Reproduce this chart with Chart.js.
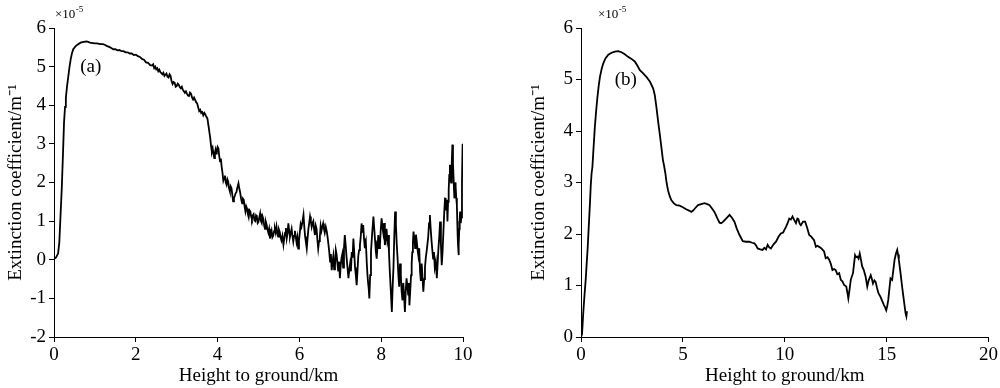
<!DOCTYPE html>
<html><head><meta charset="utf-8">
<script src="https://cdn.jsdelivr.net/npm/chart.js@4.4.1/dist/chart.umd.min.js"></script>
<style>
html,body{margin:0;padding:0;background:#fff;width:1000px;height:388px;overflow:hidden}
.box{position:absolute;top:0;width:480px;height:388px}
</style></head><body>
<div class="box" style="left:0"><canvas id="ca" width="480" height="388"></canvas></div>
<div class="box" style="left:520px"><canvas id="cb" width="480" height="388"></canvas></div>
<script>
// ---- Panel (a) ----
const heightA = [0.00,0.05,0.10,0.13,0.16,0.19,0.22,0.245,0.27,0.29,0.32,0.35,0.38,0.41,0.44,0.47,0.53,0.59,0.65,0.72,0.80,0.88,0.95,
1.00,1.05,1.10,1.15,1.20,1.25,1.30,1.35,1.40,1.45,1.50,1.55,1.60,1.65,1.70,1.75,1.80,1.85,1.90,1.95,2.00,2.05,2.10,2.15,2.20,2.25,2.30,2.35,
2.40,2.425,2.45,2.475,2.50,2.525,2.55,2.575,2.60,2.625,2.65,2.675,2.70,2.725,2.75,2.775,2.80,2.825,2.85,2.875,2.90,2.925,2.95,2.975,
3.00,3.025,3.05,3.075,3.10,3.125,3.15,3.175,3.20,3.225,3.25,3.275,3.30,3.325,3.35,3.375,3.40,3.425,3.45,3.475,3.50,3.525,3.55,3.575,3.60,3.625,3.65,3.675,3.70,3.725,
3.75,3.78,3.80,3.82,3.84,3.86,3.88,3.90,3.92,3.935,3.95,3.965,3.98,4.00,4.02,4.04,4.06,4.08,4.10,4.12,4.14,4.16,4.18,4.20,4.22,4.24,4.26,4.28,4.30,4.32,4.34,4.36,4.38,4.40,
4.42,4.44,4.46,4.485,4.51,4.53,4.55,4.575,4.60,4.62,4.64,4.66,4.68,4.70,4.72,4.74,4.76,4.78,4.80,4.82,4.84,4.86,4.88,4.90,4.92,4.94,4.96,4.98,
5.00,5.02,5.04,5.06,5.08,5.10,5.12,5.14,5.16,5.18,5.20,5.22,5.24,5.26,5.28,5.30,5.32,5.34,5.36,5.38,5.40,5.42,5.44,5.46,5.48,5.50,5.52,5.54,5.56,5.585,5.61,5.63,5.65,5.67,5.69,5.71,5.73,5.75,5.77,5.79,5.81,5.83,5.85,5.87,5.89,5.91,5.93,5.95,5.97,5.99,
6.01,6.03,6.05,6.075,6.10,6.12,6.14,6.16,6.18,6.20,6.22,6.24,6.26,6.28,6.30,6.32,6.34,6.36,6.38,6.40,6.42,6.44,6.46,6.48,6.50,6.52,6.54,6.56,6.58,6.60,6.62,6.645,6.67,6.69,6.71,6.73,6.75,6.77,6.79,6.81,6.83,6.85,6.87,6.89,6.91,6.93,6.95,6.97,6.99,
7.01,7.03,7.05,7.07,7.09,7.11,7.13,7.15,7.175,7.20,7.22,7.24,7.26,7.28,7.30,7.32,7.34,7.36,7.38,7.40,7.42,7.44,7.46,7.48,7.50,7.52,7.54,7.56,7.58,7.60,7.625,7.65,7.665,7.68,7.695,7.71,7.73,7.75,7.78,7.81,7.83,7.85,7.87,7.89,7.91,7.93,7.95,7.97,7.99,
8.01,8.03,8.05,8.07,8.09,8.11,8.13,8.15,8.17,8.19,8.21,8.235,8.26,8.28,8.30,8.32,8.34,8.36,8.38,8.40,8.42,8.44,8.46,8.48,8.50,8.52,8.54,8.56,8.58,8.60,8.62,8.64,8.66,8.675,8.69,8.71,8.73,8.745,8.76,8.775,8.79,8.81,8.83,8.85,8.87,8.89,8.91,8.93,8.95,8.97,8.99,
9.01,9.03,9.05,9.07,9.09,9.11,9.13,9.15,9.17,9.19,9.21,9.23,9.25,9.27,9.29,9.31,9.335,9.36,9.38,9.40,9.42,9.44,9.46,9.48,9.50,9.52,9.54,9.56,9.575,9.59,9.605,9.62,9.635,9.65,9.665,9.68,9.695,9.71,9.725,9.74,9.755,9.77,9.78,9.79,9.805,9.82,9.835,9.85,9.86,9.87,9.88,9.89,9.90,9.91,9.92,9.93,9.945,9.96,9.975,9.99,10.00];
const extA = [0.02,0.06,0.16,0.45,1.15,1.85,2.75,3.55,3.96,4.19,4.50,4.75,5.00,5.20,5.35,5.45,5.53,5.58,5.62,5.64,5.65,5.62,5.61,
5.60,5.60,5.59,5.58,5.58,5.56,5.53,5.51,5.48,5.45,5.45,5.42,5.43,5.40,5.40,5.37,5.37,5.34,5.34,5.30,5.31,5.27,5.25,5.20,5.18,5.11,5.10,5.04,
5.03,5.06,4.96,5.00,4.93,4.96,4.88,4.92,4.86,4.83,4.80,4.84,4.76,4.79,4.82,4.74,4.72,4.80,4.76,4.62,4.55,4.60,4.58,4.48,
4.50,4.56,4.53,4.47,4.44,4.48,4.40,4.36,4.32,4.36,4.30,4.25,4.24,4.33,4.30,4.20,4.15,4.20,4.14,4.08,4.05,3.95,3.85,3.88,3.80,3.82,3.74,3.80,3.76,3.70,
3.66,3.45,3.30,3.15,2.95,2.80,2.88,2.72,2.63,2.78,2.85,2.75,2.80,2.92,2.88,2.68,2.55,2.62,2.40,2.25,2.05,2.12,2.18,2.00,1.94,2.08,2.02,1.85,1.77,1.90,1.85,1.68,1.51,1.60,
1.65,1.72,1.75,1.88,1.98,1.85,1.75,1.58,1.46,1.58,1.55,1.38,1.25,1.38,1.32,1.18,1.10,1.28,1.25,1.12,1.05,1.15,1.18,1.02,1.00,1.15,1.12,0.95,
0.98,1.10,1.20,1.00,0.95,1.12,1.05,0.88,0.80,0.98,0.90,0.78,0.70,0.80,0.55,0.66,0.75,0.58,0.62,0.74,0.80,0.70,0.86,0.70,0.60,0.78,0.72,0.58,0.50,0.62,0.39,0.55,0.70,0.82,0.55,0.68,0.94,0.75,0.60,0.70,0.80,0.62,0.47,0.62,0.75,0.60,0.45,0.58,0.29,0.50,
0.70,0.92,0.85,0.98,1.16,0.85,0.60,0.45,0.29,0.55,0.80,0.95,1.12,1.00,0.85,0.95,1.00,0.78,0.64,0.88,0.80,0.52,0.29,0.48,0.60,0.88,0.75,0.85,0.94,0.80,0.70,0.85,0.73,0.58,0.40,0.20,-0.05,0.15,-0.27,-0.05,0.10,-0.25,-0.15,0.25,0.13,-0.10,-0.30,-0.05,-0.48,
-0.15,0.05,0.15,-0.20,0.30,0.64,0.40,0.10,-0.20,-0.48,-0.25,-0.10,-0.30,0.20,0.05,0.55,0.20,-0.20,-0.40,-0.66,-0.30,0.10,0.25,0.38,0.60,0.94,0.70,0.90,0.55,0.30,0.45,-0.14,-0.40,-0.60,-0.75,-1.00,-0.40,0.20,0.70,1.12,0.80,0.50,0.20,0.03,0.35,0.64,0.30,0.40,0.80,
1.07,0.85,0.70,0.95,0.38,0.55,0.80,0.50,0.64,0.20,-0.30,-0.80,-1.35,-0.70,-0.20,0.60,1.25,0.90,0.40,0.05,-0.40,-0.70,-0.10,-0.40,-0.83,-1.05,-0.60,-0.95,-1.35,-0.80,-0.48,-0.70,-0.90,-0.60,-1.18,-0.80,-0.40,-0.10,0.20,0.45,0.73,0.55,0.30,0.65,0.47,0.25,0.10,0.30,-0.31,-0.55,-0.10,
-0.45,-0.83,-0.50,-0.20,0.05,0.21,0.40,0.60,0.95,1.16,0.80,0.50,0.25,0.03,0.20,-0.20,-0.05,-0.48,-0.10,0.30,0.60,0.99,0.40,-0.14,0.20,0.70,1.20,1.59,1.60,1.30,1.55,0.99,1.50,1.80,2.20,2.46,2.10,2.00,2.50,2.98,2.50,2.10,1.80,1.59,2.00,1.90,1.60,1.42,1.00,0.60,0.35,0.12,0.40,0.80,1.05,1.25,0.95,1.10,2.00,2.98,3.00];
const xTicksA = [0,2,4,6,8,10];
const yTicksA = [-2,-1,0,1,2,3,4,5,6];

// ---- Panel (b) ----
const heightB = [0.00,0.05,0.11,0.17,0.23,0.33,0.44,0.48,0.52,0.56,0.60,0.68,0.75,0.81,0.87,0.93,1.01,1.09,1.20,1.34,1.50,1.66,1.82,1.99,2.15,2.31,2.48,2.64,2.75,2.89,3.05,3.21,3.38,3.54,3.62,3.70,3.78,3.86,3.94,
4.02,4.08,4.14,4.20,4.27,4.35,4.43,4.55,4.68,4.84,5.00,5.16,5.33,5.41,5.49,5.60,5.74,5.90,6.06,6.20,6.31,6.42,6.55,6.70,6.80,6.88,6.98,7.12,7.29,7.40,7.53,7.65,7.78,7.94,
8.10,8.26,8.40,8.51,8.60,8.67,8.80,8.91,9.00,9.08,9.16,9.24,9.32,9.45,9.57,9.70,9.81,9.92,10.06,10.15,10.22,10.30,10.38,10.47,10.55,10.62,10.67,10.73,10.79,10.90,11.00,11.10,11.20,11.30,11.44,11.53,11.60,11.69,11.80,11.93,
12.01,12.10,12.18,12.26,12.34,12.42,12.50,12.58,12.67,12.75,12.83,12.91,13.02,13.08,13.12,13.18,13.24,13.35,13.45,13.50,13.56,13.62,13.68,13.74,13.80,13.88,13.97,14.05,14.12,14.22,14.28,14.33,14.40,14.46,14.53,14.60,14.70,14.78,14.87,14.93,14.98,
15.03,15.08,15.14,15.19,15.27,15.33,15.39,15.46,15.52,15.56,15.60,15.68,15.76,15.85,15.93,15.97,16.00];
const extB = [0.00,0.05,0.46,0.80,1.11,1.75,2.60,2.95,3.18,3.30,3.57,4.08,4.42,4.67,4.88,5.05,5.20,5.31,5.41,5.48,5.52,5.54,5.55,5.53,5.49,5.44,5.40,5.35,5.28,5.18,5.12,5.05,4.96,4.83,4.70,4.47,4.20,3.96,3.70,
3.44,3.32,3.18,3.00,2.85,2.74,2.66,2.60,2.56,2.55,2.52,2.48,2.45,2.43,2.45,2.50,2.56,2.58,2.60,2.58,2.56,2.50,2.43,2.30,2.22,2.21,2.24,2.30,2.37,2.32,2.24,2.10,1.98,1.86,
1.85,1.85,1.83,1.82,1.77,1.72,1.70,1.69,1.73,1.70,1.79,1.74,1.72,1.80,1.85,1.95,2.01,2.03,2.14,2.22,2.30,2.28,2.34,2.27,2.21,2.30,2.29,2.20,2.17,2.24,2.24,2.12,1.98,1.95,1.88,1.75,1.77,1.75,1.72,1.66,
1.53,1.55,1.50,1.42,1.30,1.32,1.30,1.22,1.24,1.11,1.08,1.01,0.98,0.85,0.75,0.92,1.11,1.24,1.59,1.55,1.56,1.52,1.62,1.50,1.37,1.30,1.17,0.98,1.10,1.20,1.12,1.04,1.10,1.07,0.95,0.85,0.78,0.70,0.62,0.57,0.52,
0.60,0.72,0.95,1.14,1.11,1.30,1.50,1.62,1.69,1.60,1.50,1.25,0.98,0.70,0.46,0.40,0.50];
const xTicksB = [0,5,10,15,20];
const yTicksB = [0,1,2,3,4,5,6];

const FF = '"Liberation Serif","Times New Roman",serif';

const extras = {
  id: 'extras',
  afterDraw(chart, args, opts) {
    const {ctx, chartArea, scales} = chart;
    ctx.save();
    ctx.fillStyle = '#000';
    ctx.textAlign = 'left';
    ctx.textBaseline = 'alphabetic';
    ctx.font = '13px ' + FF;
    const mx = chartArea.left + opts.multDx, my = opts.multY;
    ctx.fillText('×10', mx, my);
    const w = ctx.measureText('×10').width;
    ctx.font = '9px ' + FF;
    ctx.fillText('-5', mx + w + 0.5, my - 6);
    ctx.font = '19px ' + FF;
    ctx.textAlign = 'center';
    ctx.textBaseline = 'middle';
    ctx.fillText(opts.label, scales.x.getPixelForValue(opts.labelX), scales.y.getPixelForValue(opts.labelY));
    ctx.restore();
  }
};

function makeChart(id, xs, ys, xTicks, yTicks, yAxisWidth, padRight, yTitlePad, extrasOpts) {
  const axisCommon = {
    type: 'linear',
    grid: {display: true, drawOnChartArea: false, drawTicks: true, tickLength: 5, color: '#000', lineWidth: 1},
    border: {display: true, color: '#000', width: 1},
  };
  return new Chart(document.getElementById(id), {
    type: 'line',
    data: {datasets: [{
      data: xs.map((h, i) => ({x: h, y: ys[i]})),
      borderColor: '#000', borderWidth: 1.8, pointRadius: 0, tension: 0, fill: false
    }]},
    options: {
      responsive: false, animation: false, devicePixelRatio: 1,
      layout: {padding: {top: 28, right: padRight, left: 0, bottom: 0}},
      plugins: {legend: {display: false}, tooltip: {enabled: false}, extras: extrasOpts},
      scales: {
        x: Object.assign({}, axisCommon, {
          min: xTicks[0], max: xTicks[xTicks.length - 1],
          afterBuildTicks: s => { s.ticks = xTicks.map(v => ({value: v})); },
          afterFit: s => { s.height = 51; },
          ticks: {color: '#000', font: {family: FF, size: 19}, padding: 2, maxRotation: 0, autoSkip: false},
          title: {display: true, text: 'Height to ground/km', color: '#000', font: {family: FF, size: 19}, padding: {top: 0, bottom: 1}}
        }),
        y: Object.assign({}, axisCommon, {
          min: yTicks[0], max: yTicks[yTicks.length - 1],
          afterBuildTicks: s => { s.ticks = yTicks.map(v => ({value: v})); },
          afterFit: s => { s.width = yAxisWidth; },
          ticks: {color: '#000', font: {family: FF, size: 19}, padding: 3, autoSkip: false},
          title: {display: true, text: 'Extinction coefficient/m⁻¹', color: '#000', font: {family: FF, size: 19}, padding: {top: yTitlePad, bottom: 0}}
        })
      }
    },
    plugins: [extras]
  });
}

makeChart('ca', heightA, extA, xTicksA, yTicksA, 54, 17, 5, {multDx: 1, multY: 18, label: '(a)', labelX: 0.9, labelY: 5.0});
makeChart('cb', heightB, extB, xTicksB, yTicksB, 61, 10, 8, {multDx: 17, multY: 18, label: '(b)', labelX: 2.2, labelY: 4.99});
</script>
</body></html>
